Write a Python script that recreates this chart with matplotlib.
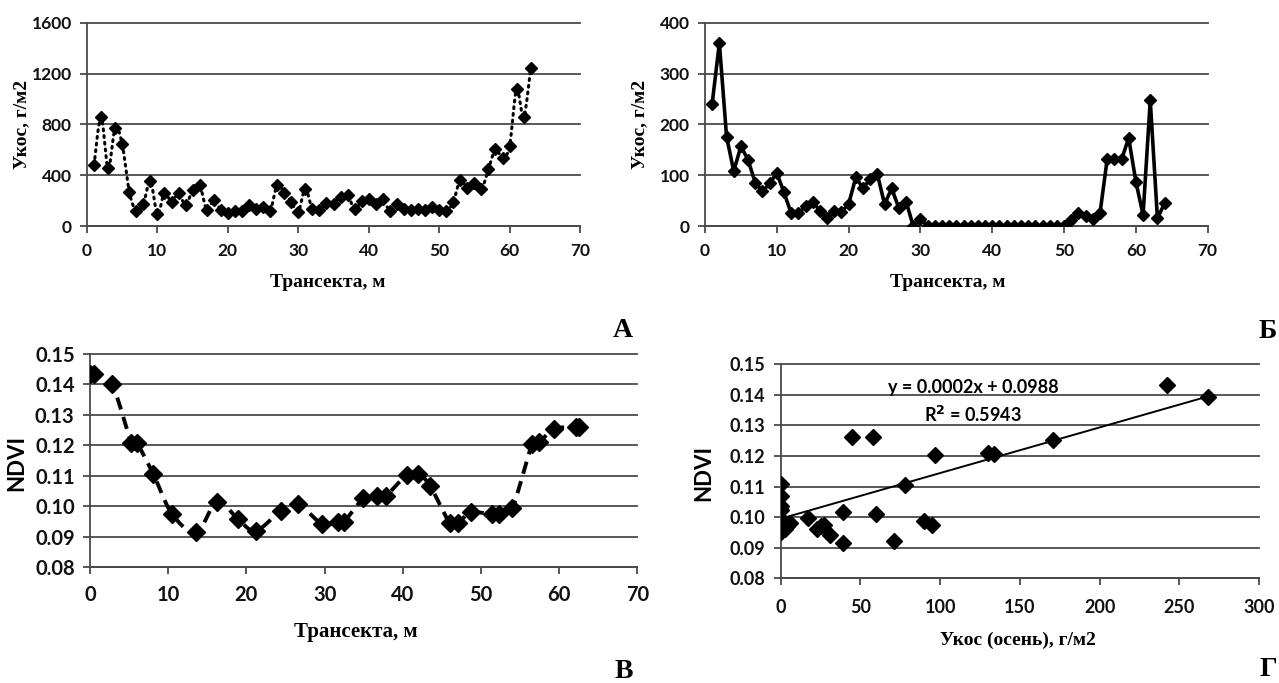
import numpy as np
import matplotlib
matplotlib.use("Agg")
import matplotlib.pyplot as plt

# ---------------- data ----------------
a_x = list(range(1, 64))
a_y = [480, 856, 454, 770, 643, 270, 118, 173, 354, 92, 262, 186, 257, 165, 283, 320,
       126, 205, 126, 105, 118, 118, 165, 134, 152, 118, 323, 262, 191, 113, 294, 131,
       126, 183, 173, 231, 244, 131, 199, 210, 173, 210, 118, 173, 134, 126, 134, 126,
       147, 126, 118, 186, 362, 297, 341, 291, 446, 606, 533, 632, 1076, 856, 1244]

b_x = list(range(1, 65))
b_y = [241, 360, 176, 108, 157, 130, 85, 68, 84, 104, 66, 25, 25, 39, 48, 30, 15, 30,
       28, 43, 96, 74, 92, 102, 43, 74, 35, 48, 0, 14,
       0, 0, 0, 0, 0, 0, 0, 0, 0, 0, 0, 0, 0, 0, 0, 0, 0, 0, 0, 0,
       12, 25, 20, 14, 25, 131, 131, 131, 173, 87, 22, 247, 15, 45]

c_x = [0.0, 0.5, 2.8, 5.3, 6.0, 8.1, 10.5, 13.6, 16.25, 18.9, 21.2, 24.4, 26.55, 29.7,
       31.7, 32.5, 34.95, 36.65, 37.85, 40.5, 42.0, 43.5, 46.0, 47.1, 48.7, 51.4, 52.35,
       54.0, 56.55, 57.45, 59.3, 62.1, 62.6]
c_y = [0.1435, 0.1435, 0.1400, 0.1209, 0.1207, 0.1106, 0.0975, 0.0915, 0.1015, 0.0959,
       0.0920, 0.0985, 0.1008, 0.0942, 0.0950, 0.0950, 0.1026, 0.1035, 0.1035, 0.1103,
       0.1106, 0.1067, 0.0946, 0.0946, 0.0980, 0.0974, 0.0974, 0.0994, 0.1205, 0.1210,
       0.1253, 0.1261, 0.1261]

d_x = [0, 0, 0, 0, 0, 0, 0, 2, 4, 6, 3, 17, 23, 25, 27, 31, 39, 39, 45, 58, 60, 71, 78,
       90, 95, 97, 130, 134, 171, 242, 268]
d_y = [0.111, 0.107, 0.1035, 0.1025, 0.098, 0.0965, 0.095, 0.0985, 0.097, 0.098, 0.096,
       0.0996, 0.0962, 0.097, 0.0974, 0.0942, 0.1018, 0.0917, 0.1262, 0.1262, 0.1009,
       0.0922, 0.1105, 0.0987, 0.0974, 0.1203, 0.1211, 0.1205, 0.1252, 0.1432, 0.1394]
trend_x = [0, 268]
trend_y = [0.0995, 0.1395]

eq_text = "y = 0.0002x + 0.0988"
r2_text = "R$^2$ = 0.5943"

# ---------------- helpers ----------------
SANS = ["Lato", "DejaVu Sans"]
SERIF = ["Liberation Serif", "DejaVu Serif"]
GRID = "#4a4a4a"

plt.rcParams["font.family"] = SANS
plt.rcParams["font.weight"] = "bold"
plt.rcParams["mathtext.default"] = "bf"

W, H = 1279, 683
fig = plt.figure(figsize=(W / 100, H / 100), dpi=100)


def make_ax(l, r, t, b):
    return fig.add_axes([l / W, 1 - b / H, (r - l) / W, (b - t) / H])


def smooth(x, y, n=16):
    x = np.asarray(x, float)
    y = np.asarray(y, float)
    px = np.concatenate([[x[0]], x, [x[-1]]])
    py = np.concatenate([[y[0]], y, [y[-1]]])
    t = np.linspace(0, 1, n)
    ox, oy = [], []
    for i in range(1, len(px) - 2):
        p0x, p1x, p2x, p3x = px[i - 1], px[i], px[i + 1], px[i + 2]
        p0y, p1y, p2y, p3y = py[i - 1], py[i], py[i + 1], py[i + 2]
        c1x, c1y = p1x + (p2x - p0x) / 6, p1y + (p2y - p0y) / 6
        c2x, c2y = p2x - (p3x - p1x) / 6, p2y - (p3y - p1y) / 6
        bx = (1 - t) ** 3 * p1x + 3 * (1 - t) ** 2 * t * c1x + 3 * (1 - t) * t ** 2 * c2x + t ** 3 * p2x
        by = (1 - t) ** 3 * p1y + 3 * (1 - t) ** 2 * t * c1y + 3 * (1 - t) * t ** 2 * c2y + t ** 3 * p2y
        ox.extend(bx)
        oy.extend(by)
    return ox, oy


def style(ax, xt, yt, fs=12, yfmt=None, xpad=7, ypad=6):
    for s in ("top", "right"):
        ax.spines[s].set_visible(False)
    for s in ("left", "bottom"):
        ax.spines[s].set_color(GRID)
        ax.spines[s].set_linewidth(1.3)
    ax.set_xticks(xt)
    ax.set_yticks(yt)
    ax.set_xlim(xt[0], xt[-1])
    ax.set_ylim(yt[0], yt[-1])
    if yfmt:
        ax.set_yticklabels([yfmt % v for v in yt])
    ax.tick_params(axis="both", direction="out", length=5, width=1.3, color=GRID,
                   labelsize=fs, labelcolor="#111111")
    ax.tick_params(axis="x", pad=xpad)
    ax.tick_params(axis="y", pad=ypad)
    ax.yaxis.grid(True, color=GRID, linewidth=1.3)
    ax.set_axisbelow(True)
    for gl in ax.get_ygridlines():
        gl.set_clip_on(False)
    ax.patch.set_alpha(0)


# ---------------- Panel A ----------------
axA = make_ax(87, 580, 22.7, 226)
sx, sy = smooth(a_x, a_y)
axA.plot(sx, sy, color="black", lw=2.2, linestyle=(0, (0.6, 1.6)),
         dash_capstyle="round", zorder=3)
axA.plot(a_x, a_y, linestyle="none", marker="D", ms=6.5, color="black", zorder=4)
style(axA, list(range(0, 71, 10)), [0, 400, 800, 1200, 1600], fs=12.5)

# ---------------- Panel B ----------------
axB = make_ax(705, 1207.7, 22.7, 226)
axB.plot(b_x, b_y, color="black", lw=2.6, marker="D", ms=6.5, zorder=3)
style(axB, list(range(0, 71, 10)), [0, 100, 200, 300, 400], fs=12.5)

# ---------------- Panel C ----------------
axC = make_ax(90, 637.3, 354, 567.3)
sx, sy = smooth(c_x, c_y)
axC.plot(sx, sy, color="black", lw=2.8, linestyle=(0, (3.2, 2.0)), zorder=3)
axC.plot(c_x, c_y, linestyle="none", marker="D", ms=9, color="black", zorder=4)
style(axC, list(range(0, 71, 10)), [0.08, 0.09, 0.10, 0.11, 0.12, 0.13, 0.14, 0.15],
      fs=14.5, yfmt="%.2f", xpad=8)

# ---------------- Panel D ----------------
axD = make_ax(780.7, 1259, 364.3, 578.3)
axD.plot(trend_x, trend_y, color="black", lw=1.4, zorder=3)
axD.plot(d_x, d_y, linestyle="none", marker="D", ms=8.5, color="black", zorder=4)
style(axD, list(range(0, 301, 50)), [0.08, 0.09, 0.10, 0.11, 0.12, 0.13, 0.14, 0.15],
      fs=13, yfmt="%.2f", xpad=10)

# ---------------- texts ----------------
fig.text(22 / W, 1 - 124 / H, "Укос, г/м2", rotation=90, ha="center", va="center",
         family=SERIF, fontweight="bold", fontsize=14)
fig.text(640 / W, 1 - 124 / H, "Укос, г/м2", rotation=90, ha="center", va="center",
         family=SERIF, fontweight="bold", fontsize=14)
fig.text(328 / W, 1 - 282 / H, "Трансекта, м", ha="center", va="center",
         family=SERIF, fontweight="bold", fontsize=14)
fig.text(948 / W, 1 - 282 / H, "Трансекта, м", ha="center", va="center",
         family=SERIF, fontweight="bold", fontsize=14)
fig.text(356 / W, 1 - 632 / H, "Трансекта, м", ha="center", va="center",
         family=SERIF, fontweight="bold", fontsize=15)
fig.text(1018 / W, 1 - 640 / H, "Укос (осень), г/м2", ha="center", va="center",
         family=SERIF, fontweight="bold", fontsize=14)
fig.text(17 / W, 1 - 463 / H, "NDVI", rotation=90, ha="center", va="center",
         family=SANS, fontweight="bold", fontsize=16)
fig.text(704 / W, 1 - 473 / H, "NDVI", rotation=90, ha="center", va="center",
         family=SANS, fontweight="bold", fontsize=16)
fig.text(973 / W, 1 - 388 / H, eq_text, ha="center", va="center",
         family=SANS, fontweight="bold", fontsize=13)
fig.text(973 / W, 1 - 415 / H, r2_text, ha="center", va="center",
         family=SANS, fontweight="bold", fontsize=13)

for (px, py, s) in [(623, 330, "А"), (1268, 331, "Б"), (624, 672, "В"), (1268, 669, "Г")]:
    fig.text(px / W, 1 - py / H, s, ha="center", va="center",
             family=SERIF, fontweight="bold", fontsize=20)

fig.savefig("out.png", dpi=100, facecolor="white")
